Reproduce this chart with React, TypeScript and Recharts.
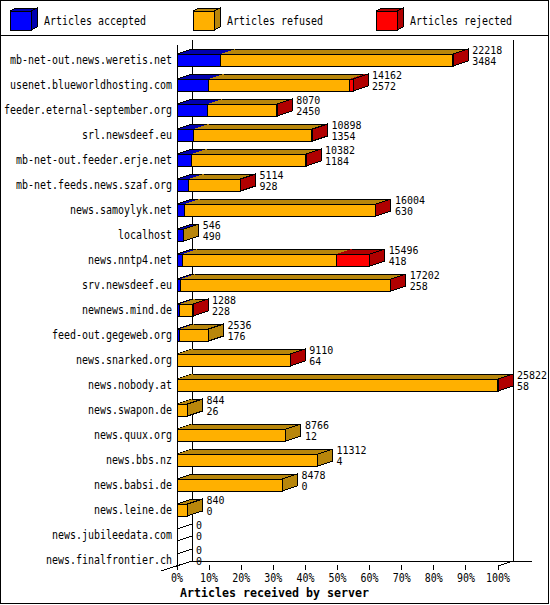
import React from 'react';
import { BarChart, Bar, XAxis, YAxis, LabelList } from 'recharts';

const servers = [
  'mb-net-out.news.weretis.net',
  'usenet.blueworldhosting.com',
  'feeder.eternal-september.org',
  'srl.newsdeef.eu',
  'mb-net-out.feeder.erje.net',
  'mb-net.feeds.news.szaf.org',
  'news.samoylyk.net',
  'localhost',
  'news.nntp4.net',
  'srv.newsdeef.eu',
  'newnews.mind.de',
  'feed-out.gegeweb.org',
  'news.snarked.org',
  'news.nobody.at',
  'news.swapon.de',
  'news.quux.org',
  'news.bbs.nz',
  'news.babsi.de',
  'news.leine.de',
  'news.jubileedata.com',
  'news.finalfrontier.ch',
];
const totals = [22218, 14162, 8070, 10898, 10382, 5114, 16004, 546, 15496, 17202, 1288, 2536, 9110, 25822, 844, 8766, 11312, 8478, 840, 0, 0];
const accepted = [3484, 2572, 2450, 1354, 1184, 928, 630, 490, 418, 258, 228, 176, 64, 58, 26, 12, 4, 0, 0, 0, 0];
const refused = [18686, 11340, 5584, 9502, 9168, 4168, 15352, 56, 12428, 16918, 998, 2360, 9028, 25730, 818, 8754, 11308, 8478, 840, 0, 0];
const rejected = [48, 250, 36, 42, 30, 18, 22, 0, 2650, 26, 62, 0, 18, 34, 0, 0, 0, 0, 0, 0, 0];
const xTicks = [0, 10, 20, 30, 40, 50, 60, 70, 80, 90, 100];
const legendLabels = ['Articles accepted', 'Articles refused', 'Articles rejected'];
const axisTitle = 'Articles received by server';

const W = 550;
const H = 605;
const PLOT = { left: 177, right: 498, top: 47, bottom: 572 };
const DX = 15;
const DY = 5;
const FONT = '"DejaVu Sans Mono", "Liberation Mono", monospace';
const FS = 12;
const CW = 6;
const COLORS = [
  { front: '#0000ff', dark: '#0000b0' },
  { front: '#ffb000', dark: '#b8860b' },
  { front: '#ff0000', dark: '#b00000' },
];

const maxTotal = Math.max(...totals);
const data = servers.map((name, i) => ({
  name,
  accepted: (accepted[i] / maxTotal) * 100,
  refused: (refused[i] / maxTotal) * 100,
  rejected: (rejected[i] / maxTotal) * 100,
  segs: [accepted[i], refused[i], rejected[i]],
}));

const PixText = (p: any) => {
  const { children, cw = CW, fs = FS, bold = false, ...rest } = p;
  const s = String(children);
  return (
    <text
      {...rest}
      fontSize={fs}
      fontFamily={FONT}
      fontWeight={bold ? 'bold' : 'normal'}
      fill="#000"
      dominantBaseline="central"
      textLength={s.length * cw}
      lengthAdjust="spacingAndGlyphs"
    >
      {s}
    </text>
  );
};

const makeShape = (si: number) => (props: any) => {
  const { x, y, width, height } = props;
  const idx = props.index;
  const row = props.payload && props.payload.segs ? props.payload : data[idx];
  if (!row || x == null || y == null) return <g />;
  const segs: number[] = row.segs;
  const nz = segs.map((v, i) => (v > 0 ? i : -1)).filter((i) => i >= 0);
  if (nz.length === 0) {
    if (si !== 0) return <g />;
    return (
      <g shapeRendering="crispEdges">
        <line x1={x} y1={y} x2={x + DX} y2={y - DY} stroke="#000" />
        <line x1={x} y1={y + height} x2={x + DX} y2={y + height - DY} stroke="#000" />
      </g>
    );
  }
  if (segs[si] <= 0) return <g />;
  const first = nz[0];
  const last = nz[nz.length - 1];
  const c = COLORS[si];
  const x2 = x + width;
  return (
    <g shapeRendering="crispEdges">
      <polygon
        points={`${x},${y} ${x + DX},${y - DY} ${x2 + DX},${y - DY} ${x2},${y}`}
        fill={c.dark}
        stroke="none"
      />
      <line x1={x + DX} y1={y - DY} x2={x2 + DX} y2={y - DY} stroke="#000" />
      {si === first && <line x1={x} y1={y} x2={x + DX} y2={y - DY} stroke="#000" />}
      {si === last && (
        <polygon
          points={`${x2},${y} ${x2 + DX},${y - DY} ${x2 + DX},${y + height - DY} ${x2},${y + height}`}
          fill={c.dark}
          stroke="#000"
        />
      )}
      <rect x={x} y={y} width={width} height={height} fill={c.front} stroke="#000" />
    </g>
  );
};

const ValueLabel = (props: any) => {
  const vb = props.viewBox && props.viewBox.x != null ? props.viewBox : props;
  const { x, y, width } = vb;
  const idx = props.index;
  if (x == null || idx == null) return null;
  const tx = x + (width || 0) + DX + 4;
  return (
    <g>
      <PixText x={tx} y={y - 4} fs={11}>{totals[idx]}</PixText>
      <PixText x={tx} y={y + 7.5} fs={11}>{accepted[idx]}</PixText>
    </g>
  );
};

const YTick = (props: any) => {
  const { y, payload } = props;
  return (
    <PixText x={PLOT.left - 5} y={y} textAnchor="end">
      {payload.value}
    </PixText>
  );
};

const XTick = (props: any) => {
  const { x, payload } = props;
  return (
    <g>
      <line x1={x} y1={PLOT.bottom - 7} x2={x} y2={PLOT.bottom - 2} stroke="#000" shapeRendering="crispEdges" />
      <PixText x={x} y={PLOT.bottom + 6} textAnchor="middle">
        {`${payload.value}%`}
      </PixText>
    </g>
  );
};

const Frame = () => {
  const fb = PLOT.bottom - 6;
  const legendX = [10, 193, 376];
  const textX = [44, 227, 410];
  return (
    <svg width={W} height={H} style={{ position: 'absolute', left: 0, top: 0 }}>
      <g shapeRendering="crispEdges">
        <rect x={0.5} y={0.5} width={548} height={603} fill="#fff" stroke="#000" />
        <line x1={0} y1={35.5} x2={549} y2={35.5} stroke="#000" />
        {legendX.map((lx, i) => (
          <g key={i}>
            <polygon points={`${lx},11 ${lx + 6},8 ${lx + 6 + 21},8 ${lx + 21},11`} fill={COLORS[i].dark} stroke="#000" />
            <polygon points={`${lx + 21},11 ${lx + 27},8 ${lx + 27},27 ${lx + 21},30`} fill={COLORS[i].dark} stroke="#000" />
            <rect x={lx} y={11} width={21} height={19} fill={COLORS[i].front} stroke="#000" />
          </g>
        ))}
        <line x1={PLOT.left} y1={PLOT.top - 2} x2={PLOT.left} y2={fb} stroke="#000" />
        <line x1={PLOT.left + DX} y1={PLOT.top - 7} x2={PLOT.left + DX} y2={fb - DY} stroke="#000" />
        <line x1={PLOT.right + DX} y1={PLOT.top - 7} x2={PLOT.right + DX} y2={fb - DY} stroke="#000" />
        <line x1={PLOT.left + DX} y1={fb - DY} x2={PLOT.right + DX + 19} y2={fb - DY} stroke="#000" />
        <line x1={PLOT.left - 16} y1={fb + 5} x2={PLOT.left + DX} y2={fb - DY} stroke="#000" />
        <line x1={PLOT.right} y1={fb} x2={PLOT.right + DX} y2={fb - DY} stroke="#000" />
      </g>
      {legendX.map((lx, i) => (
        <PixText key={i} x={textX[i]} y={20.5}>
          {legendLabels[i]}
        </PixText>
      ))}
      <PixText x={180} y={592} fs={12.5} cw={7} bold>
        {axisTitle}
      </PixText>
    </svg>
  );
};

export default function App() {
  return (
    <div style={{ position: 'absolute', left: 0, top: 0, width: W, height: H }}>
      <Frame />
      <div style={{ position: 'absolute', left: 0, top: 0 }}>
        <BarChart
          width={W}
          height={H}
          data={data}
          layout="vertical"
          margin={{ top: PLOT.top, right: W - PLOT.right, bottom: 0, left: 0 }}
          barSize={12}
        >
          <XAxis
            type="number"
            domain={[0, 100]}
            ticks={xTicks}
            height={H - PLOT.bottom}
            axisLine={false}
            tickLine={false}
            tick={<XTick />}
            interval={0}
          />
          <YAxis
            type="category"
            dataKey="name"
            width={PLOT.left}
            axisLine={false}
            tickLine={false}
            tick={<YTick />}
            interval={0}
          />
          <Bar dataKey="accepted" stackId="a" isAnimationActive={false} shape={makeShape(0)} />
          <Bar dataKey="refused" stackId="a" isAnimationActive={false} shape={makeShape(1)} />
          <Bar dataKey="rejected" stackId="a" isAnimationActive={false} shape={makeShape(2)}>
            <LabelList dataKey="rejected" content={<ValueLabel />} />
          </Bar>
        </BarChart>
      </div>
    </div>
  );
}
